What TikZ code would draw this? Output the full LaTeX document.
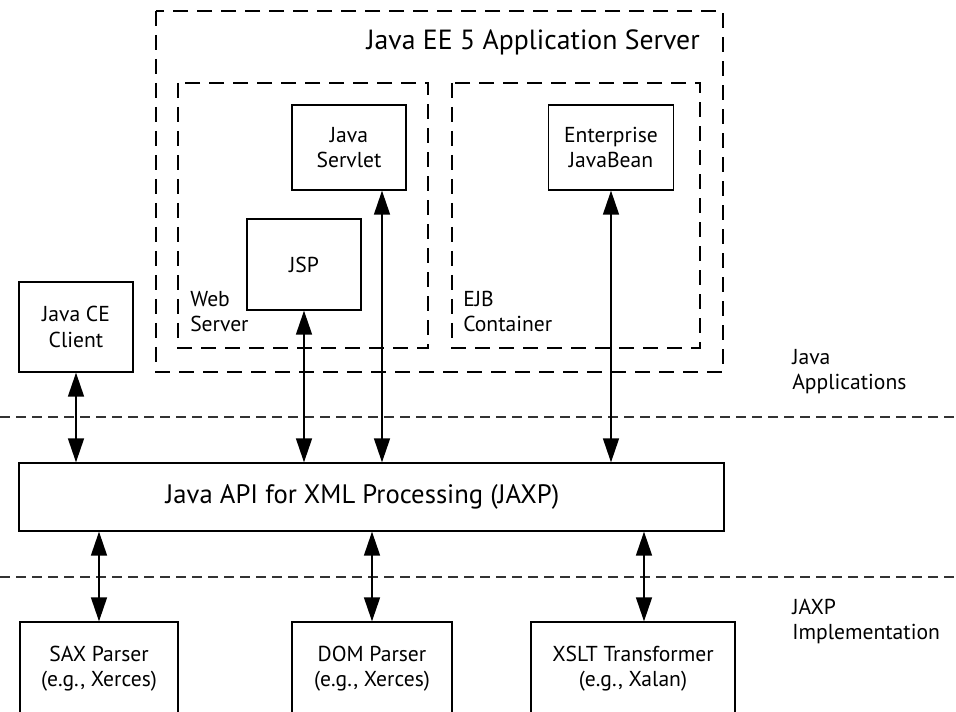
\documentclass[tikz,border=0pt]{standalone}
\usepackage{fontspec}
\setmainfont{PT Sans}
\usetikzlibrary{arrows.meta}
\newcommand\bxfont{\fontsize{16.2}{19}\selectfont}
\newcommand\bigjfont{\fontsize{20}{23}\selectfont}
\newcommand\ttlfont{\fontsize{20.8}{24}\selectfont}
\begin{document}
\begin{tikzpicture}[x=0.75pt,y=-0.75pt,
  box/.style={draw, line width=1pt, inner sep=0pt, align=center, font=\bxfont},
  lbl/.style={inner sep=0pt, align=left, font=\bxfont},
  dbox/.style={draw, line width=0.95pt, dash pattern=on 11.25pt off 6.75pt},
  sepline/.style={draw, line width=1pt, black!80, dash pattern=on 7.5pt off 4.5pt},
  conn/.style={line width=1.1pt, {Triangle[length=18pt,width=12pt]}-{Triangle[length=18pt,width=12pt]}}
]
\useasboundingbox (0,0) rectangle (956,712);
\clip (0,0) rectangle (956,712);

% container boxes
\draw[dbox] (156,11) rectangle (723,372);
\draw[dbox] (178,83) rectangle (428,348);
\draw[dbox] (452,83) rectangle (700,348);

% separators
\draw[sepline] (0,417) -- (956,417);
\draw[sepline] (0,577) -- (956,577);

% boxes
\node[box, minimum width=85.5pt, minimum height=63.75pt] (servlet) at (349,147.5) {Java\\Servlet};
\node[box, minimum width=85.5pt, minimum height=68.25pt] (jsp) at (304,264.5) {JSP};
\node[box, minimum width=93.75pt, minimum height=63.75pt] (ejb) at (611,147.5) {Enterprise\\JavaBean};
\node[box, minimum width=85.5pt, minimum height=67.5pt] (client) at (76,327) {Java CE\\Client};
\node[box, minimum width=528.75pt, minimum height=51pt, font=\bigjfont] (jaxp) at (371.5,497) {\hspace*{-13.5pt}Java API for XML Processing (JAXP)};
\node[box, minimum width=118.5pt, minimum height=70.5pt] (sax) at (99,669) {SAX Parser\\(e.g., Xerces)};
\node[box, minimum width=120pt, minimum height=70.5pt] (dom) at (372,669) {DOM Parser\\(e.g., Xerces)};
\node[box, minimum width=153pt, minimum height=70.5pt] (xslt) at (633,669) {XSLT Transformer\\(e.g., Xalan)};

% labels
\node[lbl, anchor=base east, font=\ttlfont] (title) at (700,50) {Java EE 5 Application Server};
\node[lbl, anchor=north west] (webl) at (190,291) {Web\\Server};
\node[lbl, anchor=north west] (ejbl) at (463,291) {EJB\\Container};
\node[lbl, anchor=north west] (appl) at (792,349) {Java\\Applications};
\node[lbl, anchor=north west] (impl) at (792,599) {JAXP\\Implementation};

% connectors
\draw[conn] (client.south) -- (client.south |- jaxp.north);
\draw[conn] (jsp.south) -- (jsp.south |- jaxp.north);
\draw[conn] ([xshift=24.75pt]servlet.south) -- ([xshift=24.75pt]servlet.south |- jaxp.north);
\draw[conn] (ejb.south) -- (ejb.south |- jaxp.north);
\draw[conn] (sax.north |- jaxp.south) -- (sax.north);
\draw[conn] (dom.north |- jaxp.south) -- (dom.north);
\draw[conn] ([xshift=8.25pt]xslt.north |- jaxp.south) -- ([xshift=8.25pt]xslt.north);
\end{tikzpicture}
\end{document}
